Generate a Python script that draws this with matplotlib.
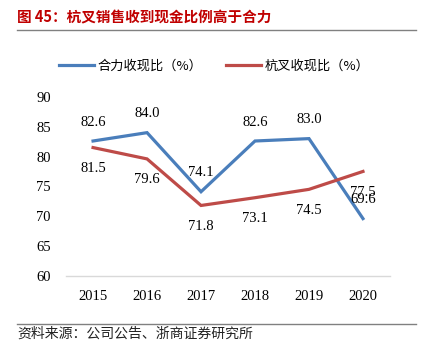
import matplotlib
matplotlib.use("Agg")
import matplotlib.pyplot as plt
from matplotlib.lines import Line2D

plt.rcParams['font.family'] = ['Noto Sans CJK SC', 'DejaVu Sans']

years = ["2015", "2016", "2017", "2018", "2019", "2020"]
heli = [82.6, 84.0, 74.1, 82.6, 83.0, 69.6]
hangcha = [81.5, 79.6, 71.8, 73.1, 74.5, 77.5]
yticks = [60, 65, 70, 75, 80, 85, 90]

blue = "#4A7EBB"
red = "#BE4B48"
serif = "Liberation Serif"

fig = plt.figure(figsize=(4.29, 3.56), dpi=100)
ax = fig.add_axes([0.154, 0.225, 0.755, 0.503])

x = list(range(len(years)))
ax.plot(x, heli, color=blue, lw=2.3, label="合力收现比（%）", solid_joinstyle="miter")
ax.plot(x, hangcha, color=red, lw=2.3, label="杭叉收现比（%）", solid_joinstyle="miter")

# data labels: blue above, red below (2020 overlap is in the original too)
for i, v in enumerate(heli):
    ax.annotate(f"{v:.1f}", (i, v), xytext=(0, 19), textcoords="offset pixels",
                ha="center", va="center", fontsize=10.5, family=serif)
for i, v in enumerate(hangcha):
    ax.annotate(f"{v:.1f}", (i, v), xytext=(0, -21), textcoords="offset pixels",
                ha="center", va="center", fontsize=10.5, family=serif)

ax.set_xlim(-0.5, len(years) - 0.5)
ax.set_ylim(60, 90)
ax.set_yticks(yticks)
ax.set_xticks(x)
ax.set_xticklabels(years)
for lab in ax.get_xticklabels() + ax.get_yticklabels():
    lab.set_family(serif)
    lab.set_fontsize(10.5)
ax.tick_params(length=0, pad=10)
ax.tick_params(axis="y", pad=11)
for s in ["top", "right", "left"]:
    ax.spines[s].set_visible(False)
ax.spines["bottom"].set_color("#D9D9D9")
ax.spines["bottom"].set_linewidth(1)

fig.legend(loc="center", bbox_to_anchor=(0.5, 0.815), ncol=2, frameon=False,
           fontsize=9.5, handlelength=2.6, columnspacing=1.8, handletextpad=0.3)

fig.text(0.04, 1 - 17 / 356, "图 45：杭叉销售收到现金比例高于合力", color="#C00000",
         fontsize=10.5, fontweight="bold", va="center", ha="left")
fig.add_artist(Line2D([17 / 429, 416 / 429], [1 - 30 / 356] * 2, color="#808080", lw=1))
fig.add_artist(Line2D([17 / 429, 416 / 429], [1 - 324 / 356] * 2, color="#808080", lw=1))
fig.text(0.04, 1 - 334 / 356, "资料来源：公司公告、浙商证券研究所", color="#222222",
         fontsize=10, va="center", ha="left")

fig.savefig("out.png", dpi=100)
